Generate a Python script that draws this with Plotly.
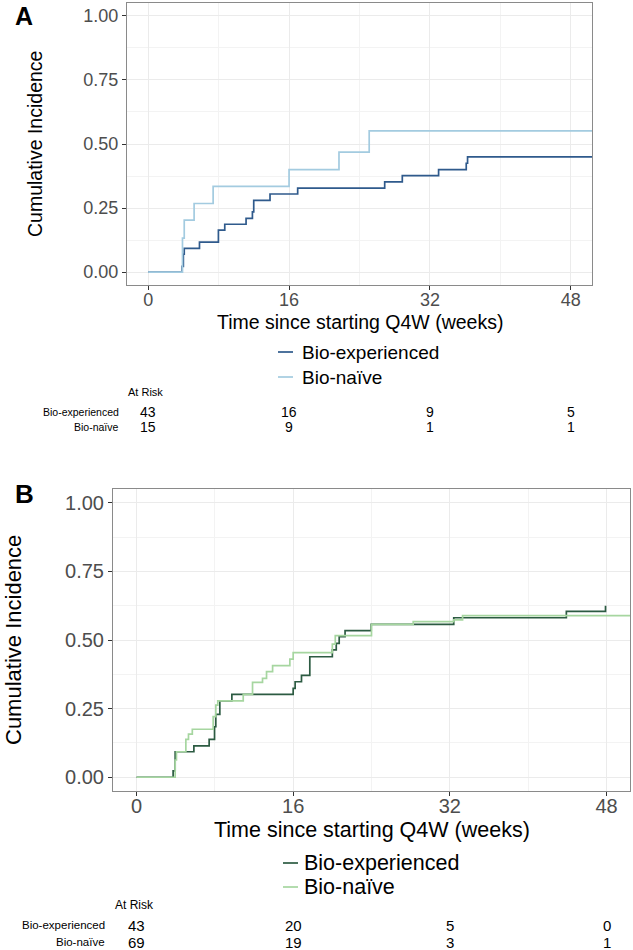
import plotly.graph_objects as go

# ---------------- data ----------------
# Panel A (blue): cumulative incidence step curves
a_exp_t = [0, 3.86, 4.00, 4.10, 5.83, 7.98, 8.70, 11.12, 11.84, 11.99, 13.84, 16.98, 26.86, 28.86, 32.98, 36.12, 36.27, 52]
a_exp_y = [0, 0.023, 0.070, 0.093, 0.117, 0.164, 0.187, 0.210, 0.235, 0.280, 0.305, 0.328, 0.352, 0.377, 0.400, 0.425, 0.450, 0.450]
a_nai_t = [0, 3.90, 4.10, 5.22, 7.38, 16.00, 21.67, 25.10, 52]
a_nai_y = [0, 0.133, 0.203, 0.268, 0.335, 0.400, 0.468, 0.551, 0.551]

# Panel B (green)
b_exp_t = [0, 3.74, 3.95, 5.86, 7.42, 7.97, 8.10, 8.51, 9.74, 16.00, 16.20, 16.85, 17.70, 20.00, 20.40, 20.70, 21.30, 23.97, 32.40, 43.90, 47.90]
b_exp_y = [0, 0.023, 0.093, 0.114, 0.138, 0.184, 0.229, 0.278, 0.302, 0.324, 0.348, 0.371, 0.439, 0.464, 0.488, 0.512, 0.534, 0.557, 0.581, 0.604, 0.625]
b_nai_t = [0, 3.95, 4.08, 5.04, 5.31, 5.70, 7.83, 8.10, 8.30, 10.90, 11.85, 12.87, 13.28, 13.90, 15.66, 16.00, 20.00, 20.30, 24.00, 28.26, 32.40, 33.30, 52]
b_nai_y = [0, 0.063, 0.093, 0.138, 0.157, 0.175, 0.221, 0.263, 0.278, 0.302, 0.346, 0.360, 0.385, 0.407, 0.430, 0.454, 0.485, 0.516, 0.557, 0.567, 0.573, 0.589, 0.589]

groups = ["Bio-experienced", "Bio-naïve"]
risk_times = [0, 16, 32, 48]
risk_a_exp = [43, 16, 9, 5]
risk_a_nai = [15, 9, 1, 1]
risk_b_exp = [43, 20, 5, 0]
risk_b_nai = [69, 19, 3, 1]

x_ticks = [0, 16, 32, 48]
y_ticks = [0, 0.25, 0.5, 0.75, 1.0]

# ---------------- styling ----------------
W, H = 633, 950
FONT = "Liberation Sans, Arial, Helvetica, sans-serif"
A_COLS = ["#2f5a8c", "#a3cbe0"]
B_COLS = ["#2c5b42", "#a6d6a0"]
GRID = "#ebebeb"
TICKC = "#4d4d4d"


def px(x):
    return x / W


def py(y):
    return 1 - y / H


fig = go.Figure()
for t, y, c, n in [(a_exp_t, a_exp_y, A_COLS[0], groups[0]), (a_nai_t, a_nai_y, A_COLS[1], groups[1])]:
    fig.add_trace(go.Scatter(x=t, y=y, mode="lines", line=dict(shape="hv", color=c, width=1.7),
                             name=n, showlegend=False, xaxis="x", yaxis="y"))
for t, y, c, n in [(b_exp_t, b_exp_y, B_COLS[0], groups[0]), (b_nai_t, b_nai_y, B_COLS[1], groups[1])]:
    fig.add_trace(go.Scatter(x=t, y=y, mode="lines", line=dict(shape="hv", color=c, width=1.7),
                             name=n, showlegend=False, xaxis="x2", yaxis="y2"))


def xax(domain, anchor, size, standoff):
    return dict(domain=domain, anchor=anchor, range=[-2.4, 50.4], tickvals=x_ticks,
                showgrid=True, gridcolor=GRID, gridwidth=1,
                minor=dict(dtick=8, tick0=0, showgrid=True, gridcolor="#f3f3f3", gridwidth=1, ticklen=0),
                zeroline=False, showline=True, mirror=True, linecolor="#8a8a8a", linewidth=1,
                ticks="outside", ticklen=4, tickcolor="#333333", tickwidth=1,
                ticklabelstandoff=standoff,
                tickfont=dict(family=FONT, size=size, color=TICKC), fixedrange=True)


def yax(domain, anchor, size):
    return dict(domain=domain, anchor=anchor, range=[-0.05, 1.05], tickvals=y_ticks,
                tickformat=".2f", showgrid=True, gridcolor=GRID, gridwidth=1,
                minor=dict(dtick=0.125, tick0=0, showgrid=True, gridcolor="#f3f3f3", gridwidth=1, ticklen=0),
                zeroline=False, showline=True, mirror=True, linecolor="#8a8a8a", linewidth=1,
                ticks="outside", ticklen=4, tickcolor="#333333", tickwidth=1,
                tickfont=dict(family=FONT, size=size, color=TICKC), fixedrange=True)


fig.update_layout(
    width=W, height=H, margin=dict(l=0, r=0, t=0, b=0),
    paper_bgcolor="white", plot_bgcolor="white", showlegend=False,
    xaxis=xax([px(127), px(592)], "y", 18, -6),
    yaxis=yax([py(285), py(3)], "x", 18),
    xaxis2=xax([px(113), px(630)], "y2", 20, -7),
    yaxis2=yax([py(791), py(489)], "x2", 20),
)

ann = []
shapes = []


def text(x, y, s, size, xanchor="center", color="black", xref="paper", textangle=0):
    ann.append(dict(x=x if xref != "paper" else px(x), y=py(y), xref=xref, yref="paper", text=s,
                    showarrow=False, xanchor=xanchor, yanchor="middle", textangle=textangle,
                    font=dict(family=FONT, size=size, color=color)))


# Panel letters
text(13, 16, "<b>A</b>", 25, xanchor="left")
text(13, 494, "<b>B</b>", 26, xanchor="left")

# Axis titles
text(35, 144, "Cumulative Incidence", 19.5, textangle=-90)
text(359.5, 322, "Time since starting Q4W (weeks)", 19.5)
text(13, 640, "Cumulative Incidence", 22, textangle=-90)
text(371.5, 830, "Time since starting Q4W (weeks)", 21.5)

# Legends (manual)
for i, (g, c) in enumerate(zip(groups, A_COLS)):
    yy = 352 + 25 * i
    shapes.append(dict(type="line", xref="paper", yref="paper", x0=px(278), x1=px(293), y0=py(yy), y1=py(yy),
                       line=dict(color=c, width=1.7)))
    text(300, yy, g, 19, xanchor="left")
for i, (g, c) in enumerate(zip(groups, B_COLS)):
    yy = 863 + 24 * i
    shapes.append(dict(type="line", xref="paper", yref="paper", x0=px(283), x1=px(298), y0=py(yy), y1=py(yy),
                       line=dict(color=c, width=1.7)))
    text(302, yy, g, 21.5, xanchor="left")

# At-risk tables
text(126, 392, "At Risk", 11, xanchor="left")
text(121, 412, groups[0], 10.5, xanchor="right")
text(121, 427, groups[1], 10.5, xanchor="right")
for t, v1, v2 in zip(risk_times, risk_a_exp, risk_a_nai):
    text(t, 412, str(v1), 14, xref="x")
    text(t, 427, str(v2), 14, xref="x")

text(113, 905, "At Risk", 12, xanchor="left")
text(107, 925, groups[0], 11.5, xanchor="right")
text(107, 942, groups[1], 11.5, xanchor="right")
for t, v1, v2 in zip(risk_times, risk_b_exp, risk_b_nai):
    text(t, 925, str(v1), 15, xref="x2")
    text(t, 942, str(v2), 15, xref="x2")

fig.update_layout(annotations=ann, shapes=shapes)
fig.write_html("out.html")
